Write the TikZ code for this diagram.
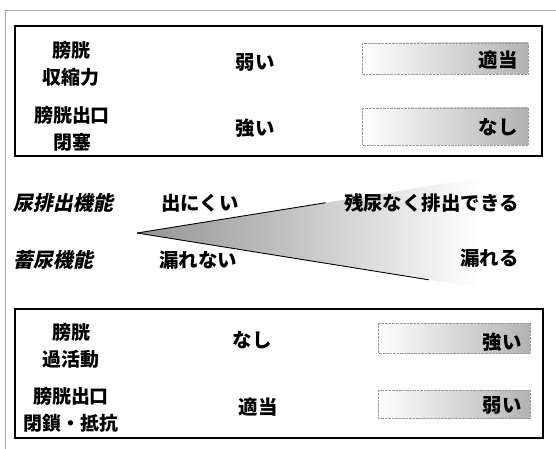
\documentclass[tikz,border=0pt]{standalone}
\usepackage{fontspec}
\setmainfont{Noto Sans CJK JP}
\newfontfamily\slantfont{Noto Sans CJK JP}[FakeSlant=0.2]
\usetikzlibrary{positioning,calc}

\begin{document}
\begin{tikzpicture}[x=1bp,y=-1bp,
    lbl/.style={font=\bfseries\fontsize{19}{27}\selectfont, align=center},
    val/.style={font=\bfseries\fontsize{19.5}{22}\selectfont},
    func/.style={font=\slantfont\bfseries\fontsize{20}{22}\selectfont},
    grad/.style={left color=white, right color=gray!60, draw=gray!80, densely dotted},
    panel/.style={draw, line width=1.2pt}]
    \useasboundingbox (0,0) rectangle (556,449);
    % outer frame
    \draw[gray!70] (5,449) -- (5,10) -- (556,10);

    % upper panel
    \draw[panel] (15,26) rectangle (542,156);
    \shade[grad] (362,43) rectangle (528,74);
    \shade[grad] (362,108) rectangle (528,145);
    \node[lbl] (contract) at (71,64) {膀胱\\収縮力};
    \node[lbl] (outlet) at (72,129) {膀胱出口\\閉塞};
    \node[val] (weak) at (255,62) {弱い};
    \node[val] (strong) at (255,128) {強い};
    \node[val, anchor=east] (proper) at (521,60) {適当};
    \node[val, anchor=east] (none) at (521,127) {なし};

    % wedge
    \coordinate (apex) at (137,233);
    \coordinate (wtop) at (480,178);
    \coordinate (wbot) at (480,288);
    \shade[left color=gray!85, middle color=gray!60, right color=white]
        (apex) -- (wtop) -- (wbot) -- cycle;
    \draw[line width=0.9pt] (apex) -- ($(apex)!0.55!(wtop)$);
    \draw[line width=0.9pt] (apex) -- ($(apex)!0.85!(wbot)$);
    \node[func, anchor=west] (void) at (10,203) {尿排出機能};
    \node[func, anchor=west] (store) at (10,260) {蓄尿機能};
    \node[val] (hard) at (200,203) {出にくい};
    \node[val] (noleak) at (198,260) {漏れない};
    \node[val, anchor=east] (empty) at (522,203) {残尿なく排出できる};
    \node[val, anchor=east] (leak) at (522,258) {漏れる};

    % lower panel
    \draw[panel] (15,309) rectangle (543,438);
    \shade[grad] (378,323) rectangle (530,353);
    \shade[grad] (378,390) rectangle (530,418);
    \node[lbl] (overact) at (71,346) {膀胱\\過活動};
    \node[lbl] (resist) at (71,410) {膀胱出口\\閉鎖・抵抗};
    \node[val] (none2) at (252,340) {なし};
    \node[val] (proper2) at (258,407) {適当};
    \node[val, anchor=east] (strong2) at (525,342) {強い};
    \node[val, anchor=east] (weak2) at (525,405) {弱い};
\end{tikzpicture}
\end{document}
